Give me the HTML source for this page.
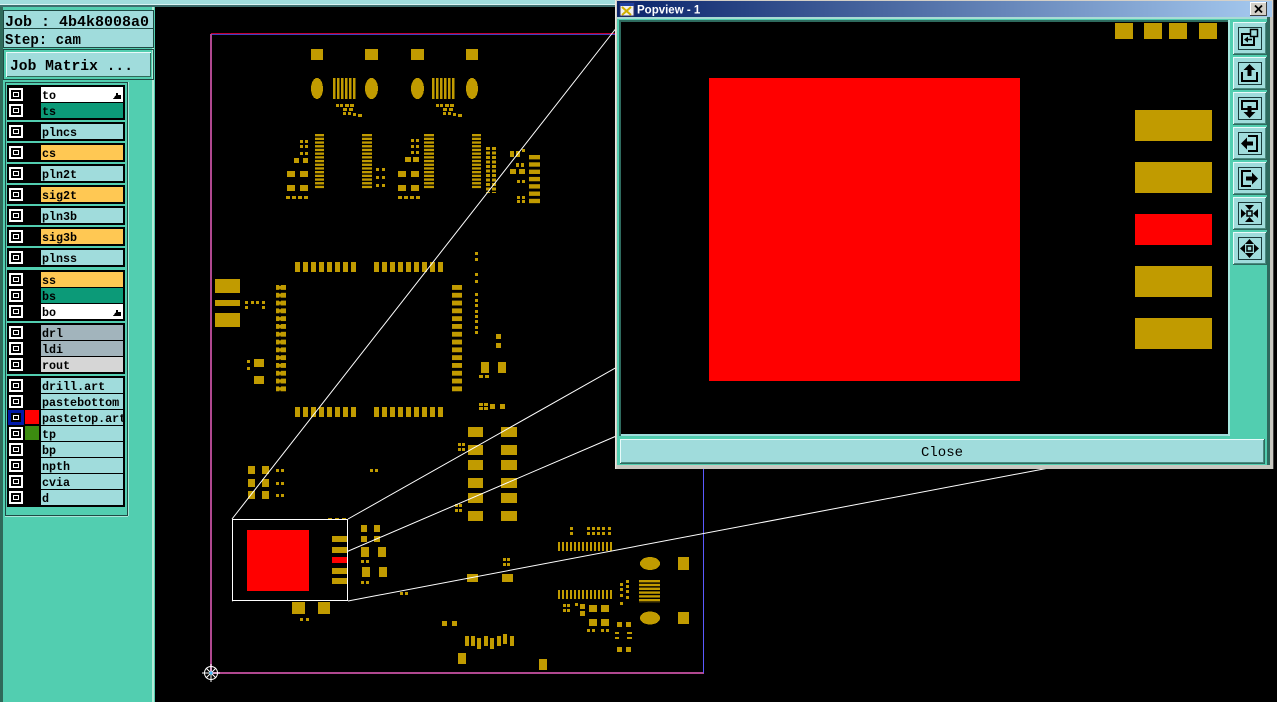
<!DOCTYPE html>
<html><head><meta charset="utf-8"><style>
html,body{margin:0;padding:0;background:#000;width:1277px;height:702px;overflow:hidden}
svg{display:block}
.m{font-family:"Liberation Mono",monospace;font-weight:bold}
</style></head><body>
<svg width="1277" height="702" viewBox="0 0 1277 702" xmlns="http://www.w3.org/2000/svg" shape-rendering="crispEdges">
<defs>
<linearGradient id="tg" x1="0" y1="0" x2="1" y2="0"><stop offset="0" stop-color="#0a246a"/><stop offset="1" stop-color="#a6caf0"/></linearGradient>
<pattern id="hb" x="0" y="134" width="40" height="3.7" patternUnits="userSpaceOnUse"><rect width="40" height="2.4" fill="#c19b00"/></pattern>
<pattern id="vb" x="333" y="0" width="4" height="40" patternUnits="userSpaceOnUse"><rect width="2.6" height="40" fill="#c19b00"/></pattern>
<pattern id="vb2" x="432" y="0" width="4" height="40" patternUnits="userSpaceOnUse"><rect width="2.6" height="40" fill="#c19b00"/></pattern>
<pattern id="qh1" x="295" y="0" width="8" height="40" patternUnits="userSpaceOnUse"><rect width="5" height="40" rx="2" fill="#c19b00"/></pattern>
<pattern id="qh2" x="374" y="0" width="8" height="40" patternUnits="userSpaceOnUse"><rect width="5" height="40" rx="2" fill="#c19b00"/></pattern>
<pattern id="qv" x="0" y="285" width="40" height="7.8" patternUnits="userSpaceOnUse"><rect width="40" height="5" rx="2" fill="#c19b00"/></pattern>
<pattern id="rb" x="0" y="155" width="40" height="7.3" patternUnits="userSpaceOnUse"><rect width="40" height="4.6" fill="#c19b00"/></pattern>
<pattern id="dp" x="486" y="147" width="6" height="4.5" patternUnits="userSpaceOnUse"><rect width="4" height="3" fill="#c19b00"/></pattern>
<pattern id="tb" x="558" y="0" width="4" height="40" patternUnits="userSpaceOnUse"><rect width="2.2" height="40" fill="#c19b00"/></pattern>
<pattern id="sb" x="0" y="580" width="40" height="3.8" patternUnits="userSpaceOnUse"><rect width="40" height="2.6" fill="#c19b00"/></pattern>
</defs>
<rect width="1277" height="702" fill="#000"/>
<!-- top strip -->
<rect x="0" y="0" width="615" height="5" fill="#a0dcdc"/>
<rect x="0" y="4" width="615" height="1" fill="#d8f4f4"/>
<rect x="0" y="5" width="615" height="2" fill="#3e6e6e"/>

<!-- board outline -->
<rect x="211" y="33" width="404" height="1" fill="#c00030"/>
<rect x="211" y="34" width="404" height="1" fill="#4040c0"/>
<rect x="210" y="34" width="2" height="640" fill="#b04890"/>
<rect x="211" y="672" width="493" height="2" fill="#b04890"/>
<rect x="703" y="468" width="1" height="205" fill="#5a5aff"/>

<!-- pads -->
<g fill="#c19b00">
<rect x="311" y="49" width="12" height="11"/><rect x="365" y="49" width="13" height="11"/><rect x="411" y="49" width="13" height="11"/><rect x="466" y="49" width="12" height="11"/>
<ellipse cx="317" cy="88.5" rx="6" ry="10.5"/><ellipse cx="371.5" cy="88.5" rx="6.5" ry="10.5"/><ellipse cx="417.5" cy="88.5" rx="6.5" ry="10.5"/><ellipse cx="472" cy="88.5" rx="6" ry="10.5"/>
<rect x="333" y="78" width="24" height="21" fill="url(#vb)"/>
<rect x="432" y="78" width="24" height="21" fill="url(#vb2)"/>
<rect x="336" y="104" width="3" height="3"/><rect x="340" y="104" width="3" height="3"/><rect x="345" y="104" width="4" height="3"/><rect x="350" y="104" width="4" height="3"/>
<rect x="343" y="108" width="4" height="3"/><rect x="349" y="108" width="4" height="3"/>
<rect x="343" y="112" width="3" height="3"/><rect x="348" y="112" width="3" height="3"/><rect x="353" y="113" width="3" height="3"/><rect x="358" y="114" width="4" height="3"/>
<rect x="436" y="104" width="3" height="3"/><rect x="440" y="104" width="3" height="3"/><rect x="445" y="104" width="4" height="3"/><rect x="450" y="104" width="4" height="3"/>
<rect x="443" y="108" width="4" height="3"/><rect x="449" y="108" width="4" height="3"/>
<rect x="443" y="112" width="3" height="3"/><rect x="448" y="112" width="3" height="3"/><rect x="453" y="113" width="3" height="3"/><rect x="458" y="114" width="4" height="3"/>
<rect x="315" y="134" width="9" height="55" fill="url(#hb)"/>
<rect x="362" y="134" width="10" height="55" fill="url(#hb)"/>
<rect x="424" y="134" width="10" height="55" fill="url(#hb)"/>
<rect x="472" y="134" width="9" height="55" fill="url(#hb)"/>
<rect x="300" y="140" width="3" height="3"/><rect x="305" y="140" width="3" height="3"/><rect x="300" y="145" width="3" height="3"/><rect x="305" y="145" width="3" height="3"/>
<rect x="300" y="152" width="3" height="3"/><rect x="305" y="152" width="3" height="3"/>
<rect x="294" y="158" width="5" height="5"/><rect x="303" y="158" width="5" height="5"/>
<rect x="287" y="171" width="8" height="6"/><rect x="300" y="171" width="8" height="6"/>
<rect x="287" y="185" width="8" height="6"/><rect x="300" y="185" width="8" height="6"/>
<rect x="286" y="196" width="4" height="3"/><rect x="292" y="196" width="4" height="3"/><rect x="298" y="196" width="4" height="3"/><rect x="304" y="196" width="4" height="3"/>
<rect x="376" y="168" width="3" height="3"/><rect x="382" y="168" width="3" height="3"/><rect x="376" y="176" width="3" height="3"/><rect x="382" y="176" width="3" height="3"/><rect x="376" y="184" width="3" height="3"/><rect x="382" y="184" width="3" height="3"/>
<rect x="411" y="139" width="3" height="3"/><rect x="416" y="139" width="3" height="3"/><rect x="411" y="145" width="3" height="3"/><rect x="416" y="145" width="3" height="3"/><rect x="411" y="151" width="3" height="3"/><rect x="416" y="151" width="3" height="3"/>
<rect x="405" y="157" width="6" height="5"/><rect x="413" y="157" width="6" height="5"/>
<rect x="398" y="171" width="8" height="6"/><rect x="411" y="171" width="8" height="6"/><rect x="398" y="185" width="8" height="6"/><rect x="411" y="185" width="8" height="6"/>
<rect x="398" y="196" width="4" height="3"/><rect x="404" y="196" width="4" height="3"/><rect x="410" y="196" width="4" height="3"/><rect x="416" y="196" width="4" height="3"/>
<rect x="486" y="147" width="10" height="46" fill="url(#dp)"/>
<rect x="510" y="151" width="4" height="6"/><rect x="516" y="151" width="4" height="6"/><rect x="522" y="149" width="3" height="3"/><rect x="516" y="163" width="3" height="4"/><rect x="521" y="163" width="3" height="4"/><rect x="510" y="169" width="6" height="5"/><rect x="519" y="169" width="6" height="5"/><rect x="517" y="180" width="3" height="3"/><rect x="522" y="180" width="3" height="3"/><rect x="517" y="196" width="3" height="3"/><rect x="522" y="196" width="3" height="3"/><rect x="517" y="200" width="3" height="3"/><rect x="522" y="200" width="3" height="3"/>
<rect x="529" y="155" width="11" height="51" fill="url(#rb)"/>
<!-- QFP -->
<rect x="295" y="262" width="61" height="10" fill="url(#qh1)"/>
<rect x="374" y="262" width="69" height="10" fill="url(#qh2)"/>
<rect x="295" y="407" width="61" height="10" fill="url(#qh1)"/>
<rect x="374" y="407" width="69" height="10" fill="url(#qh2)"/>
<rect x="276" y="285" width="10" height="107" fill="url(#qv)"/>
<rect x="452" y="285" width="10" height="107" fill="url(#qv)"/>
<rect x="215" y="279" width="25" height="14"/><rect x="215" y="300" width="25" height="6"/><rect x="215" y="313" width="25" height="14"/>
<rect x="245" y="301" width="3" height="3"/><rect x="251" y="301" width="3" height="3"/><rect x="256" y="301" width="3" height="3"/><rect x="262" y="301" width="3" height="3"/><rect x="245" y="306" width="3" height="3"/><rect x="262" y="306" width="3" height="3"/>
<rect x="254" y="359" width="10" height="8"/><rect x="254" y="376" width="10" height="8"/><rect x="247" y="360" width="3" height="3"/><rect x="247" y="367" width="3" height="3"/>
<rect x="475" y="252" width="3" height="3"/><rect x="475" y="258" width="3" height="3"/><rect x="475" y="273" width="3" height="3"/><rect x="475" y="280" width="3" height="3"/>
<rect x="475" y="293" width="3" height="3"/><rect x="475" y="299" width="3" height="3"/><rect x="475" y="304" width="3" height="3"/><rect x="475" y="310" width="3" height="3"/><rect x="475" y="315" width="3" height="3"/><rect x="475" y="320" width="3" height="3"/><rect x="475" y="326" width="3" height="3"/><rect x="475" y="331" width="3" height="3"/>
<rect x="496" y="334" width="5" height="5"/><rect x="496" y="343" width="5" height="5"/>
<rect x="481" y="362" width="8" height="11"/><rect x="498" y="362" width="8" height="11"/>
<rect x="479" y="375" width="4" height="3"/><rect x="485" y="375" width="4" height="3"/>
<rect x="479" y="403" width="4" height="3"/><rect x="484" y="403" width="4" height="3"/><rect x="479" y="407" width="4" height="3"/><rect x="484" y="407" width="4" height="3"/><rect x="490" y="404" width="5" height="5"/><rect x="500" y="404" width="5" height="5"/>
<!-- lower -->
<rect x="248" y="466" width="7" height="8"/><rect x="262" y="466" width="7" height="8"/><rect x="248" y="479" width="7" height="8"/><rect x="262" y="479" width="7" height="8"/><rect x="248" y="491" width="7" height="8"/><rect x="262" y="491" width="7" height="8"/>
<rect x="276" y="469" width="3" height="3"/><rect x="281" y="469" width="3" height="3"/><rect x="276" y="482" width="3" height="3"/><rect x="281" y="482" width="3" height="3"/><rect x="276" y="494" width="3" height="3"/><rect x="281" y="494" width="3" height="3"/>
<rect x="370" y="469" width="3" height="3"/><rect x="375" y="469" width="3" height="3"/>
<rect x="468" y="427" width="15" height="10"/><rect x="501" y="427" width="16" height="10"/>
<rect x="468" y="445" width="15" height="10"/><rect x="501" y="445" width="16" height="10"/>
<rect x="468" y="460" width="15" height="10"/><rect x="501" y="460" width="16" height="10"/>
<rect x="468" y="478" width="15" height="10"/><rect x="501" y="478" width="16" height="10"/>
<rect x="468" y="493" width="15" height="10"/><rect x="501" y="493" width="16" height="10"/>
<rect x="468" y="511" width="15" height="10"/><rect x="501" y="511" width="16" height="10"/>
<rect x="458" y="443" width="3" height="3"/><rect x="462" y="443" width="3" height="3"/><rect x="458" y="448" width="3" height="3"/><rect x="462" y="448" width="3" height="3"/>
<rect x="455" y="504" width="3" height="3"/><rect x="459" y="504" width="3" height="3"/><rect x="455" y="509" width="3" height="3"/><rect x="459" y="509" width="3" height="3"/>
<rect x="361" y="525" width="6" height="7"/><rect x="374" y="525" width="6" height="7"/><rect x="361" y="536" width="6" height="6"/><rect x="374" y="536" width="6" height="6"/>
<rect x="361" y="547" width="8" height="10"/><rect x="378" y="547" width="8" height="10"/><rect x="361" y="560" width="3" height="3"/><rect x="366" y="560" width="3" height="3"/>
<rect x="362" y="567" width="8" height="10"/><rect x="379" y="567" width="8" height="10"/><rect x="361" y="581" width="3" height="3"/><rect x="366" y="581" width="3" height="3"/>
<rect x="400" y="592" width="3" height="3"/><rect x="405" y="592" width="3" height="3"/>
<rect x="292" y="602" width="13" height="12"/><rect x="318" y="602" width="12" height="12"/><rect x="300" y="618" width="3" height="3"/><rect x="306" y="618" width="3" height="3"/>
<rect x="442" y="621" width="5" height="5"/><rect x="452" y="621" width="5" height="5"/>
<rect x="465" y="636" width="4" height="10"/><rect x="471" y="636" width="4" height="10"/><rect x="477" y="638" width="4" height="11"/><rect x="484" y="636" width="4" height="10"/><rect x="490" y="638" width="4" height="11"/><rect x="497" y="636" width="4" height="10"/><rect x="503" y="634" width="4" height="10"/><rect x="510" y="636" width="4" height="10"/>
<rect x="458" y="653" width="8" height="11"/><rect x="539" y="659" width="8" height="11"/>
<rect x="467" y="574" width="11" height="8"/><rect x="502" y="574" width="11" height="8"/>
<rect x="503" y="558" width="3" height="3"/><rect x="507" y="558" width="3" height="3"/><rect x="503" y="563" width="3" height="3"/><rect x="507" y="563" width="3" height="3"/>
<rect x="570" y="527" width="3" height="3"/><rect x="570" y="532" width="3" height="3"/>
<rect x="587" y="527" width="3" height="3"/><rect x="592" y="527" width="3" height="3"/><rect x="597" y="527" width="3" height="3"/><rect x="602" y="527" width="3" height="3"/><rect x="608" y="527" width="3" height="3"/>
<rect x="587" y="532" width="3" height="3"/><rect x="592" y="532" width="3" height="3"/><rect x="597" y="532" width="3" height="3"/><rect x="602" y="532" width="3" height="3"/><rect x="608" y="532" width="3" height="3"/>
<rect x="558" y="542" width="55" height="9" fill="url(#tb)"/>
<rect x="558" y="590" width="55" height="9" fill="url(#tb)"/>
<ellipse cx="650" cy="563.5" rx="10" ry="6.5"/><ellipse cx="650" cy="618" rx="10" ry="6.5"/>
<rect x="678" y="557" width="11" height="13"/><rect x="678" y="612" width="11" height="12"/>
<rect x="639" y="580" width="21" height="23" fill="url(#sb)"/>
<rect x="620" y="583" width="3" height="3"/><rect x="620" y="588" width="3" height="3"/><rect x="626" y="580" width="3" height="3"/><rect x="626" y="585" width="3" height="3"/><rect x="626" y="590" width="3" height="3"/><rect x="620" y="594" width="3" height="3"/><rect x="626" y="596" width="3" height="3"/><rect x="620" y="602" width="3" height="3"/>
<rect x="563" y="604" width="3" height="3"/><rect x="567" y="604" width="3" height="3"/><rect x="563" y="609" width="3" height="3"/><rect x="567" y="609" width="3" height="3"/>
<rect x="575" y="603" width="3" height="3"/><rect x="580" y="604" width="5" height="5"/><rect x="580" y="611" width="5" height="5"/>
<rect x="589" y="605" width="8" height="7"/><rect x="601" y="605" width="8" height="7"/><rect x="589" y="619" width="8" height="7"/><rect x="601" y="619" width="8" height="7"/>
<rect x="587" y="629" width="3" height="3"/><rect x="592" y="629" width="3" height="3"/><rect x="601" y="629" width="3" height="3"/><rect x="606" y="629" width="3" height="3"/>
<rect x="617" y="622" width="5" height="5"/><rect x="626" y="622" width="5" height="5"/>
<rect x="615" y="632" width="4" height="2"/><rect x="627" y="632" width="5" height="2"/><rect x="615" y="637" width="4" height="2"/><rect x="627" y="637" width="5" height="2"/>
<rect x="617" y="647" width="5" height="5"/><rect x="626" y="647" width="5" height="5"/>
<rect x="328" y="518" width="4" height="3"/><rect x="335" y="518" width="4" height="3"/><rect x="342" y="518" width="4" height="3"/>
</g>

<!-- zoom connector lines -->
<g stroke="#ffffff" stroke-width="1" shape-rendering="auto">
<line x1="232" y1="519" x2="621" y2="22"/>
<line x1="348" y1="519" x2="1228" y2="22"/>
<line x1="232" y1="601" x2="621" y2="434"/>
<line x1="348" y1="601" x2="1228" y2="434"/>
</g>

<!-- zoom rectangle -->
<rect x="232.5" y="519.5" width="115" height="81" fill="#000" stroke="#fff" stroke-width="1"/>
<rect x="247" y="530" width="62" height="61" fill="#ff0000"/>
<rect x="332" y="536" width="15" height="6" fill="#c19b00"/>
<rect x="332" y="547" width="15" height="6" fill="#c19b00"/>
<rect x="332" y="557" width="15" height="6" fill="#ff0000"/>
<rect x="332" y="568" width="15" height="6" fill="#c19b00"/>
<rect x="332" y="578" width="15" height="6" fill="#c19b00"/>

<!-- origin marker -->
<g stroke="#ffffff" stroke-width="1" fill="none" shape-rendering="auto">
<circle cx="211" cy="673" r="6.5"/>
<line x1="202" y1="673" x2="220" y2="673"/><line x1="211" y1="664" x2="211" y2="682"/>
<line x1="206" y1="668" x2="216" y2="678"/><line x1="216" y1="668" x2="206" y2="678"/>
</g>
<circle cx="211" cy="673" r="1.5" fill="#40c0ff"/>

<!-- left panel -->
<rect x="0" y="7" width="155" height="695" fill="#52ceb0"/>
<rect x="0" y="7" width="3" height="695" fill="#2f6a5a"/>
<rect x="152" y="7" width="2" height="695" fill="#b0ecd8"/>
<rect x="3" y="10" width="151" height="38" fill="#1f4a44"/>
<rect x="4" y="11" width="149" height="17" fill="#a0dcdc"/>
<rect x="4" y="29" width="149" height="18" fill="#a0dcdc"/>
<text x="5" y="26" class="m" font-size="14.5" fill="#000" textLength="144" lengthAdjust="spacingAndGlyphs">Job : 4b4k8008a0</text>
<text x="5" y="44" class="m" font-size="14.5" fill="#000" textLength="76" lengthAdjust="spacingAndGlyphs">Step: cam</text>
<rect x="3.5" y="49.5" width="150" height="30" fill="none" stroke="#1f4a44"/>
<rect x="6" y="52" width="145" height="25" fill="#e8fafa"/>
<rect x="7" y="53" width="144" height="24" fill="#2f6a5a"/>
<rect x="7" y="53" width="143" height="23" fill="#a0dcdc"/>
<text x="10" y="70" class="m" font-size="15" fill="#000" textLength="123" lengthAdjust="spacingAndGlyphs">Job Matrix ...</text>
<rect x="5.5" y="82.5" width="122" height="433" fill="#52ceb0" stroke="#1f4a44"/>
<rect x="128" y="82" width="1" height="434" fill="#a8e8d8"/>
<rect x="5" y="516" width="123" height="1" fill="#a8e8d8"/>

<!-- layer groups -->
<g fill="#000">
<rect x="7" y="85" width="118" height="35"/>
<rect x="7" y="122" width="118" height="19"/>
<rect x="7" y="143" width="118" height="19"/>
<rect x="7" y="164" width="118" height="19"/>
<rect x="7" y="185" width="118" height="19"/>
<rect x="7" y="206" width="118" height="19"/>
<rect x="7" y="227" width="118" height="19"/>
<rect x="7" y="248" width="118" height="19"/>
<rect x="7" y="270" width="118" height="51"/>
<rect x="7" y="323" width="118" height="51"/>
<rect x="7" y="376" width="118" height="131"/>
</g>
<g>
<rect x="41" y="87" width="82" height="15" fill="#ffffff"/>
<rect x="41" y="103" width="82" height="15" fill="#0c9a78"/>
<rect x="41" y="124" width="82" height="15" fill="#a0dcdc"/>
<rect x="41" y="145" width="82" height="15" fill="#ffc853"/>
<rect x="41" y="166" width="82" height="15" fill="#a0dcdc"/>
<rect x="41" y="187" width="82" height="15" fill="#ffc853"/>
<rect x="41" y="208" width="82" height="15" fill="#a0dcdc"/>
<rect x="41" y="229" width="82" height="15" fill="#ffc853"/>
<rect x="41" y="250" width="82" height="15" fill="#a0dcdc"/>
<rect x="41" y="272" width="82" height="15" fill="#ffc853"/>
<rect x="41" y="288" width="82" height="15" fill="#0c9a78"/>
<rect x="41" y="304" width="82" height="15" fill="#ffffff"/>
<rect x="41" y="325" width="82" height="15" fill="#a2b4bc"/>
<rect x="41" y="341" width="82" height="15" fill="#a2b4bc"/>
<rect x="41" y="357" width="82" height="15" fill="#d6d6d6"/>
<rect x="41" y="378" width="82" height="15" fill="#a0dcdc"/>
<rect x="41" y="394" width="82" height="15" fill="#a0dcdc"/>
<rect x="41" y="410" width="82" height="15" fill="#a0dcdc"/>
<rect x="41" y="426" width="82" height="15" fill="#a0dcdc"/>
<rect x="41" y="442" width="82" height="15" fill="#a0dcdc"/>
<rect x="41" y="458" width="82" height="15" fill="#a0dcdc"/>
<rect x="41" y="474" width="82" height="15" fill="#a0dcdc"/>
<rect x="41" y="490" width="82" height="15" fill="#a0dcdc"/>
</g>
<!-- checkboxes -->
<g>
<g id="cb"><rect x="9" y="88" width="14" height="13" fill="#fff"/><rect x="11" y="90" width="10" height="9" fill="#000"/><rect x="13" y="92" width="6" height="5" fill="#fff"/><rect x="14" y="93" width="4" height="3" fill="#000"/></g>
<use href="#cb" y="16"/><use href="#cb" y="37"/><use href="#cb" y="58"/><use href="#cb" y="79"/><use href="#cb" y="100"/><use href="#cb" y="121"/><use href="#cb" y="142"/><use href="#cb" y="163"/>
<use href="#cb" y="185"/><use href="#cb" y="201"/><use href="#cb" y="217"/>
<use href="#cb" y="238"/><use href="#cb" y="254"/><use href="#cb" y="270"/>
<use href="#cb" y="291"/><use href="#cb" y="307"/>
<use href="#cb" y="339"/><use href="#cb" y="355"/><use href="#cb" y="371"/><use href="#cb" y="387"/><use href="#cb" y="403"/>
<rect x="8" y="410" width="16" height="15" fill="#0018a8"/><rect x="11" y="413" width="10" height="9" fill="#000"/><rect x="13" y="415" width="6" height="5" fill="#fff"/><rect x="14" y="416" width="4" height="3" fill="#000"/>
<rect x="25" y="410" width="14" height="14" fill="#ff0000"/>
<rect x="25" y="426" width="14" height="14" fill="#3c8c10"/>
</g>
<g class="m" font-size="11.7" fill="#000">
<text x="42" y="99">to</text>
<text x="42" y="115">ts</text>
<text x="42" y="136">plncs</text>
<text x="42" y="157">cs</text>
<text x="42" y="178">pln2t</text>
<text x="42" y="199">sig2t</text>
<text x="42" y="220">pln3b</text>
<text x="42" y="241">sig3b</text>
<text x="42" y="262">plnss</text>
<text x="42" y="284">ss</text>
<text x="42" y="300">bs</text>
<text x="42" y="316">bo</text>
<text x="42" y="337">drl</text>
<text x="42" y="353">ldi</text>
<text x="42" y="369">rout</text>
<text x="42" y="390">drill.art</text>
<text x="42" y="406">pastebottom</text>
<text x="42" y="422">pastetop.art</text>
<text x="42" y="438">tp</text>
<text x="42" y="454">bp</text>
<text x="42" y="470">npth</text>
<text x="42" y="486">cvia</text>
<text x="42" y="502">d</text>
</g>
<path d="M113 99 l3 -4 v-2 h2 v2 h3 v4 z" fill="#000"/>
<path d="M113 316 l3 -4 v-2 h2 v2 h3 v4 z" fill="#000"/>

<!-- Popview window -->
<rect x="615" y="0" width="659" height="469" fill="#d4d0c8"/>
<rect x="615" y="0" width="1" height="469" fill="#e8e8e0"/>
<rect x="1273" y="0" width="1" height="469" fill="#404040"/>
<rect x="617" y="1" width="655" height="16" fill="url(#tg)"/>
<rect x="620" y="3" width="14" height="13" fill="#f0f0f0" stroke="#303060" stroke-width="1"/>
<rect x="620" y="3" width="14" height="3" fill="#2040a0"/>
<path d="M622 7 l9 8 M631 7 l-9 8" stroke="#d0b000" stroke-width="2" shape-rendering="auto"/>
<text x="637" y="13.5" font-family="Liberation Sans, sans-serif" font-weight="bold" font-size="11.5" fill="#fff">Popview - 1</text>
<rect x="1250" y="2" width="17" height="14" fill="#d4d0c8"/>
<rect x="1250" y="2" width="17" height="1" fill="#fff"/><rect x="1250" y="2" width="1" height="14" fill="#fff"/>
<rect x="1250" y="15" width="17" height="1" fill="#404040"/><rect x="1266" y="2" width="1" height="14" fill="#404040"/>
<path d="M1255 5.5 l7 7 M1262 5.5 l-7 7" stroke="#000" stroke-width="1.8" shape-rendering="auto"/>
<rect x="617" y="17" width="655" height="449" fill="#52ceb0"/>
<rect x="617" y="17" width="655" height="2" fill="#a8dcd4"/>
<rect x="619" y="20" width="611" height="416" fill="#2e6a5e"/>
<rect x="621" y="22" width="607" height="412" fill="#000"/>
<rect x="621" y="434" width="609" height="2" fill="#a0dcdc"/>
<rect x="1228" y="20" width="2" height="416" fill="#a8e8e0"/>
<rect x="1230" y="20" width="38" height="416" fill="#52ceb0"/>
<rect x="1267" y="17" width="3" height="449" fill="#2e6a5e"/>
<rect x="1270" y="17" width="3" height="452" fill="#c8c8c0"/>
<rect x="617" y="465" width="656" height="4" fill="#c8c8c0"/>

<!-- popview content -->
<g fill="#c19b00">
<rect x="1115" y="23" width="18" height="16"/><rect x="1144" y="23" width="18" height="16"/><rect x="1169" y="23" width="18" height="16"/><rect x="1199" y="23" width="18" height="16"/>
<rect x="1135" y="110" width="77" height="31"/>
<rect x="1135" y="162" width="77" height="31"/>
<rect x="1135" y="266" width="77" height="31"/>
<rect x="1135" y="318" width="77" height="31"/>
</g>
<rect x="1135" y="214" width="77" height="31" fill="#ff0000"/>
<rect x="709" y="78" width="311" height="303" fill="#ff0000"/>

<!-- right buttons -->
<g id="btn">
<rect x="1233" y="22" width="34" height="33" fill="#2e6a5e"/>
<rect x="1233" y="22" width="33" height="32" fill="#e8fafa"/>
<rect x="1234" y="23" width="32" height="31" fill="#4a8a80"/>
<rect x="1234" y="23" width="31" height="30" fill="#a0dcdc"/>
<rect x="1238.5" y="27.5" width="23" height="22" fill="none" stroke="#1a3a3a"/>
</g>
<use href="#btn" y="35"/><use href="#btn" y="70"/><use href="#btn" y="105"/><use href="#btn" y="140"/><use href="#btn" y="175"/><use href="#btn" y="210"/>
<g fill="#000" stroke="#000" shape-rendering="auto">
<g transform="translate(1233,22)">
<rect x="9" y="12" width="12" height="11" fill="none" stroke-width="2"/>
<rect x="17.5" y="7.5" width="7" height="7" fill="#a0dcdc" stroke-width="1.5"/>
<path d="M11 17.5 l4 -3 v6 z" stroke="none"/><path d="M14 17.5 h5" stroke-width="1.5"/>
</g>
<g transform="translate(1233,57)">
<path d="M9 15 v9 h15 v-9" fill="none" stroke-width="2"/>
<path d="M16.5 7 l-6 6 h4 v6 h4 v-6 h4 z" stroke="none"/>
</g>
<g transform="translate(1233,92)">
<path d="M9 9 v8 h15 v-8 z" fill="none" stroke-width="2"/>
<path d="M16.5 26 l-6 -6 h4 v-6 h4 v6 h4 z" stroke="none"/>
</g>
<g transform="translate(1233,127)">
<path d="M15 9 h9 v15 h-9" fill="none" stroke-width="2"/>
<path d="M8 16.5 l6 -6 v4 h6 v4 h-6 v4 z" stroke="none"/>
</g>
<g transform="translate(1233,162)">
<path d="M18 9 h-9 v15 h9" fill="none" stroke-width="2"/>
<path d="M25 16.5 l-6 -6 v4 h-6 v4 h6 v4 z" stroke="none"/>
</g>
<g transform="translate(1233,197)">
<rect x="14" y="14" width="5" height="5" fill="none" stroke-width="1.5"/>
<path d="M12 8 h9 l-4.5 5 z M12 25 h9 l-4.5 -5 z M8 12 v9 l5 -4.5 z M25 12 v9 l-5 -4.5 z" stroke="none"/>
</g>
<g transform="translate(1233,232)">
<rect x="14" y="14" width="5" height="5" fill="none" stroke-width="1.5"/>
<path d="M16.5 7 l-4.5 5 h9 z M16.5 26 l-4.5 -5 h9 z M7 16.5 l5 -4.5 v9 z M26 16.5 l-5 -4.5 v9 z" stroke="none"/>
</g>
</g>

<!-- Close button -->
<rect x="620" y="439" width="645" height="25" fill="#2e6a5e"/>
<rect x="620" y="439" width="644" height="24" fill="#e8fafa"/>
<rect x="621" y="440" width="643" height="23" fill="#4a8a80"/>
<rect x="621" y="440" width="642" height="22" fill="#a0dcdc"/>
<text x="942" y="456" text-anchor="middle" font-family="Liberation Mono, monospace" font-size="14" fill="#000">Close</text>
</svg>
</body></html>
